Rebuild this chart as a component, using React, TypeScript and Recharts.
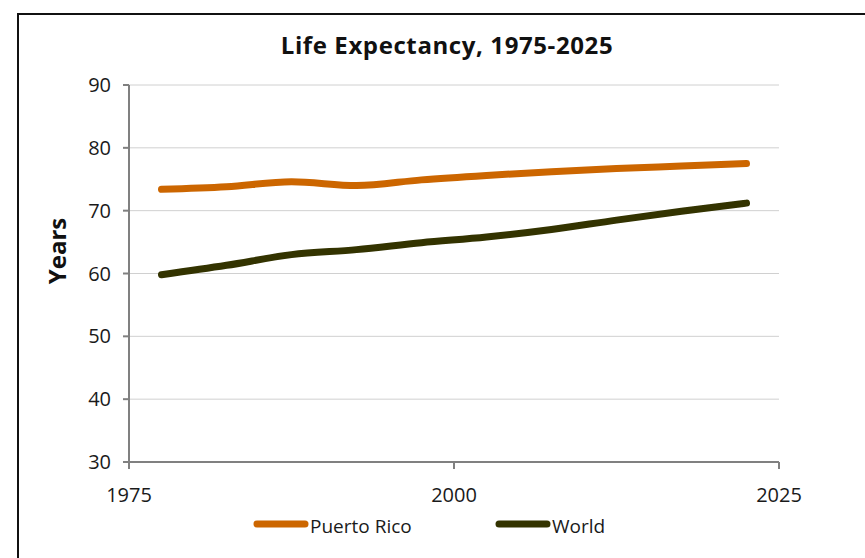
import React from 'react';
import { LineChart, Line, XAxis, YAxis, CartesianGrid, Legend } from 'recharts';

const years = [1977.5, 1982.5, 1987.5, 1992.5, 1997.5, 2002.5, 2007.5, 2012.5, 2017.5, 2022.5];
const puertoRico = [73.4, 73.8, 74.6, 74.0, 74.9, 75.6, 76.2, 76.7, 77.1, 77.5];
const world = [59.8, 61.3, 63.0, 63.8, 64.9, 65.8, 67.0, 68.5, 69.9, 71.2];
const xTicks = [1975, 2000, 2025];
const yTicks = [30, 40, 50, 60, 70, 80, 90];
const seriesNames = ['Puerto Rico', 'World'];
const seriesColors = ['#CC6600', '#333300'];
const title = 'Life Expectancy, 1975-2025';
const yLabel = 'Years';

const data = years.map((y, i) => ({ year: y, pr: puertoRico[i], world: world[i] }));

const FONT = '"Open Sans", "Noto Sans", sans-serif';
const legendLefts = [253, 495];

const LegendContent = (props: any) => {
  const payload = props.payload || [];
  return (
    <div style={{ position: 'relative', width: 865, height: 30 }}>
      {payload.map((p: any, i: number) => (
        <div key={p.value} style={{ position: 'absolute', left: legendLefts[i], top: 0, display: 'flex', alignItems: 'center', height: 30 }}>
          <svg width={56} height={30} style={{ display: 'block' }}>
            <line x1={4} y1={13} x2={52} y2={13} stroke={p.color} strokeWidth={7} strokeLinecap="round" />
          </svg>
          <span style={{ fontFamily: FONT, fontSize: 19, color: '#1a1a1a', lineHeight: '30px', marginLeft: 1 }}>{p.value}</span>
        </div>
      ))}
    </div>
  );
};

export default function App() {
  return (
    <div style={{ position: 'absolute', left: 0, top: 0, width: 865, height: 558, overflow: 'hidden', background: '#fff', fontFamily: FONT }}>
      <div style={{ position: 'absolute', left: 17, top: 13, width: 900, height: 600, borderLeft: '2px solid #111', borderTop: '2px solid #111' }} />
      <LineChart
        width={865}
        height={558}
        data={data}
        margin={{ top: 85, right: 86, bottom: 56, left: 69 }}
        style={{ position: 'absolute', left: 0, top: 0 }}
      >
        <CartesianGrid vertical={false} stroke="#d0d0d0" strokeWidth={1} />
        <XAxis
          dataKey="year"
          type="number"
          domain={[1975, 2025]}
          ticks={xTicks}
          allowDataOverflow
          height={40}
          tickSize={7}
          tickMargin={19}
          stroke="#808080"
          strokeWidth={2}
          tick={{ fill: '#1a1a1a', fontSize: 20, fontFamily: FONT }}
        />
        <YAxis
          type="number"
          domain={[30, 90]}
          ticks={yTicks}
          width={60}
          tickSize={6}
          tickMargin={12}
          stroke="#808080"
          strokeWidth={2}
          tick={{ fill: '#1a1a1a', fontSize: 20, fontFamily: FONT }}
        />
        <Legend
          verticalAlign="middle"
          layout="horizontal"
          content={<LegendContent />}
          wrapperStyle={{ top: 511, left: 0, width: 865, height: 30 }}
        />
        <Line type="monotone" dataKey="pr" name={seriesNames[0]} stroke={seriesColors[0]} strokeWidth={7} strokeLinecap="round" dot={false} activeDot={false} isAnimationActive={false} />
        <Line type="monotone" dataKey="world" name={seriesNames[1]} stroke={seriesColors[1]} strokeWidth={7} strokeLinecap="round" dot={false} activeDot={false} isAnimationActive={false} />
      </LineChart>
      <svg width={865} height={558} style={{ position: 'absolute', left: 0, top: 0, pointerEvents: 'none' }}>
        <text x={447} y={54} textAnchor="middle" fontFamily={FONT} fontWeight="bold" fontSize={24} letterSpacing={0.6} fill="#111">{title}</text>
        <text transform="translate(66,251) rotate(-90)" textAnchor="middle" fontFamily={FONT} fontWeight="bold" fontSize={24} fill="#111">{yLabel}</text>
      </svg>
    </div>
  );
}
